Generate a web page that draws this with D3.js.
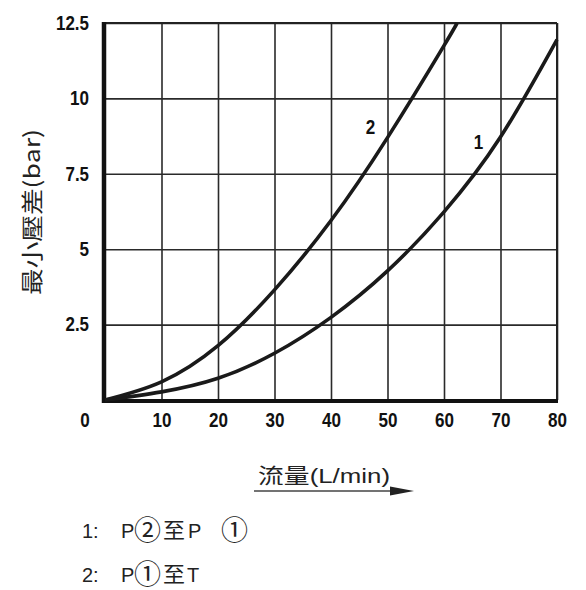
<!DOCTYPE html>
<html>
<head>
<meta charset="utf-8">
<title>最小壓差</title>
<style>
body { margin: 0; background: #fff; }
.tick text { font-family: "Liberation Sans", Arial, sans-serif; font-weight: bold; font-size: 19.5px; fill: #111; }
.grid line { stroke: #2a2a2a; stroke-width: 1.6px; }
.curve { fill: none; stroke: #1a1a1a; stroke-width: 3.6px; }
.lbl { font-family: "Liberation Sans", Arial, sans-serif; font-weight: bold; font-size: 19.5px; fill: #111; }
.txt { font-family: "Liberation Sans", Arial, "Noto Sans CJK TC", sans-serif; font-size: 20px; fill: #222; }
</style>
</head>
<body>
<script src="https://cdn.jsdelivr.net/npm/d3@7"></script>
<script>
// values
var xTicks = [10, 20, 30, 40, 50, 60, 70, 80];
var yTicks = [2.5, 5, 7.5, 10, 12.5];
var flow1 = [0, 10, 20, 30, 40, 50, 60, 70, 80];
var dp1   = [0, 0.27, 0.72, 1.55, 2.74, 4.28, 6.24, 8.72, 11.95];
var flow2 = [0, 10, 20, 30, 40, 50, 60, 62.3];
var dp2   = [0, 0.6, 1.8, 3.65, 5.95, 8.7, 11.75, 12.5];
var curveNames = ["1", "2"];

var W = 586, H = 590;
var plotL = 105, plotR = 557, plotT = 23, plotB = 400;

var x = d3.scaleLinear().domain([0, 80]).range([plotL, plotR]);
var y = d3.scaleLinear().domain([0, 12.5]).range([plotB, plotT]);

var svg = d3.select("body").append("svg")
    .attr("width", W).attr("height", H);

// narrow, tall numerals like the original
function squeeze(sel) {
  sel.attr("lengthAdjust", "spacingAndGlyphs")
     .attr("textLength", function() {
       var s = d3.select(this).text();
       return s.replace(/\./g, "").length * 9.5 + (s.indexOf(".") >= 0 ? 4.5 : 0);
     });
}

// grid + tick labels
var gx = svg.append("g").attr("class", "grid")
    .attr("transform", "translate(0," + plotB + ")")
    .call(d3.axisBottom(x).tickValues(xTicks).tickSizeInner(-(plotB - plotT)).tickSizeOuter(0).tickPadding(13));
gx.select(".domain").remove();
gx.selectAll("text").call(squeeze);

var gy = svg.append("g").attr("class", "grid")
    .attr("transform", "translate(" + plotL + ",0)")
    .call(d3.axisLeft(y).tickValues(yTicks).tickSizeInner(-(plotR - plotL)).tickSizeOuter(0).tickPadding(16)
      .tickFormat(function(d) { return d; }));
gy.select(".domain").remove();
gy.selectAll("text").call(squeeze);

// the single corner zero
svg.append("text").attr("class", "lbl")
    .attr("x", x(0) - 20).attr("y", y(0) + 27)
    .attr("text-anchor", "middle")
    .text("0").call(squeeze);

// frame
svg.append("line").attr("x1", x(0)).attr("x2", x(80)).attr("y1", y(12.5)).attr("y2", y(12.5))
    .attr("stroke", "#222").attr("stroke-width", 2);
svg.append("line").attr("x1", x(80)).attr("x2", x(80)).attr("y1", y(12.5)).attr("y2", y(0))
    .attr("stroke", "#222").attr("stroke-width", 2);
svg.append("line").attr("x1", x(0) - 1).attr("x2", x(0) - 1).attr("y1", y(12.5) - 1).attr("y2", y(0) + 3)
    .attr("stroke", "#111").attr("stroke-width", 4.5);
svg.append("line").attr("x1", x(0) - 3).attr("x2", x(80) + 1).attr("y1", y(0) + 1).attr("y2", y(0) + 1)
    .attr("stroke", "#111").attr("stroke-width", 4);

// curves
var line = d3.line()
    .x(function(d) { return x(d[0]); })
    .y(function(d) { return y(d[1]); })
    .curve(d3.curveNatural);

var series = [d3.zip(flow1, dp1), d3.zip(flow2, dp2)];
svg.append("g").selectAll("path")
    .data(series)
  .enter().append("path")
    .attr("class", "curve")
    .attr("d", line);

// curve labels
svg.append("text").attr("class", "lbl").attr("text-anchor", "middle")
    .attr("x", x(66.1)).attr("y", y(8.33)).text(curveNames[0]).call(squeeze);
svg.append("text").attr("class", "lbl").attr("text-anchor", "middle")
    .attr("x", x(47)).attr("y", y(8.82)).text(curveNames[1]).call(squeeze);

// y title
svg.append("text")
    .attr("class", "txt")
    .attr("transform", "translate(40,212) rotate(-90)")
    .attr("text-anchor", "middle")
    .attr("textLength", 166)
    .attr("lengthAdjust", "spacingAndGlyphs")
    .style("font-family", "'Noto Sans CJK TC', 'Liberation Sans', sans-serif")
    .style("font-size", "22px")
    .text("最小壓差(bar)");

// x title with arrow
svg.append("text")
    .attr("class", "txt")
    .attr("x", 258).attr("y", 483)
    .attr("textLength", 132)
    .attr("lengthAdjust", "spacingAndGlyphs")
    .style("font-family", "'Liberation Sans', 'Noto Sans CJK TC', sans-serif")
    .style("font-size", "21px")
    .text("流量(L/min)");
svg.append("line").attr("x1", 254).attr("x2", 395).attr("y1", 491).attr("y2", 491)
    .attr("stroke", "#444").attr("stroke-width", 1.5);
svg.append("path").attr("d", "M390,486.5L414,491L390,495.5Z").attr("fill", "#222");

// legend
var legend = [
  { y: 538, parts: [["1:", 82], ["P", 121], ["②", 134], ["至", 163], ["P", 188], ["①", 221]] },
  { y: 582, parts: [["2:", 82], ["P", 121], ["①", 134], ["至", 163], ["T", 187]] }
];
legend.forEach(function(row) {
  row.parts.forEach(function(p) {
    var circled = p[0] === "①" || p[0] === "②";
    svg.append("text")
      .attr("class", "txt")
      .attr("x", p[1]).attr("y", circled ? row.y + 2 : row.y)
      .style("font-family", circled || p[0] === "至" ? "'Noto Sans CJK TC', sans-serif" : "'Liberation Sans', sans-serif")
      .style("font-size", circled ? "27px" : (p[0] === "至" ? "22px" : "20px"))
      .text(p[0]);
  });
});
</script>
</body>
</html>
